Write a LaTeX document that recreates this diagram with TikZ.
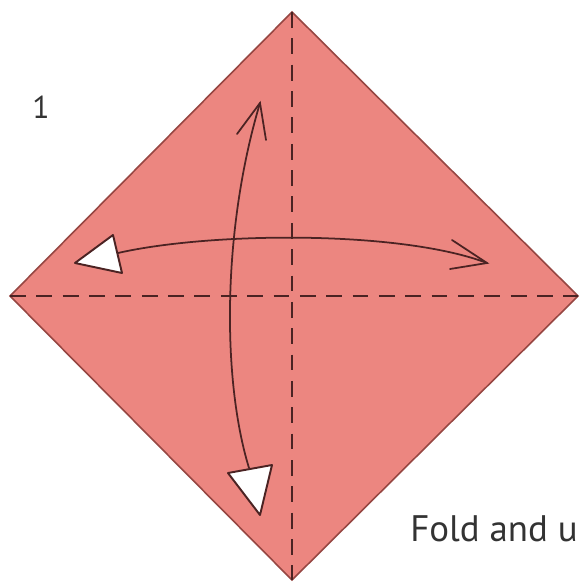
\documentclass[tikz,border=0pt]{standalone}
\usepackage{fontspec}
\setmainfont{PT Sans}
\usepackage{xcolor}
\usetikzlibrary{positioning}
\definecolor{paperpink}{RGB}{236,134,128}
\definecolor{edgebrown}{RGB}{150,70,66}
\definecolor{inkdark}{RGB}{75,35,35}
\tikzset{
  paper/.style={fill=paperpink, draw=edgebrown, line width=0.9pt},
  foldline/.style={draw=inkdark, line width=1pt, dash pattern=on 9pt off 6pt},
  arrowline/.style={draw=inkdark, line width=1pt, line cap=round},
  pushhead/.style={fill=white, draw=inkdark, line width=1.1pt, line join=round}
}
\begin{document}
\begin{tikzpicture}[x=0.02cm,y=-0.02cm]
  \useasboundingbox (0,0) rectangle (580,584);
  \fill[white] (0,0) rectangle (580,584);
  % square paper, turned on its corner
  \coordinate (top) at (292,12);
  \coordinate (left) at (10,296);
  \coordinate (right) at (578,296);
  \coordinate (bottom) at (292,580);
  \path[paper] (top) -- (right) -- (bottom) -- (left) -- cycle;
  \draw[foldline] (top) -- (bottom);
  \draw[foldline] (left) -- (right);
  % fold and unfold, left to right
  \coordinate (hstart) at (118,253);
  \coordinate (htip) at (487,263);
  \draw[arrowline] (hstart) .. controls (210,232) and (400,230) .. (htip);
  \draw[arrowline] (452,240) -- (htip) -- (450,269);
  \path[pushhead] (75,263) -- (113,235) -- (122,273) -- cycle;
  % fold and unfold, top to bottom
  \coordinate (vtip) at (260,103);
  \coordinate (vend) at (249,468);
  \draw[arrowline] (vtip) .. controls (222,230) and (222,380) .. (vend);
  \draw[arrowline] (237,134) -- (vtip) -- (266,140);
  \path[pushhead] (228,473) -- (272,465) -- (260,515) -- cycle;
  % step number and caption
  \node[font=\fontsize{18}{20}\selectfont, text=black!80] (stepno) at (41,107) {1};
  \begin{scope}
    \clip (0,0) rectangle (580,584);
    \node[anchor=base west, inner sep=0pt, font=\fontsize{21}{24}\selectfont, text=black!80] (caption) at (410,541) {Fold and unfold};
  \end{scope}
\end{tikzpicture}
\end{document}
